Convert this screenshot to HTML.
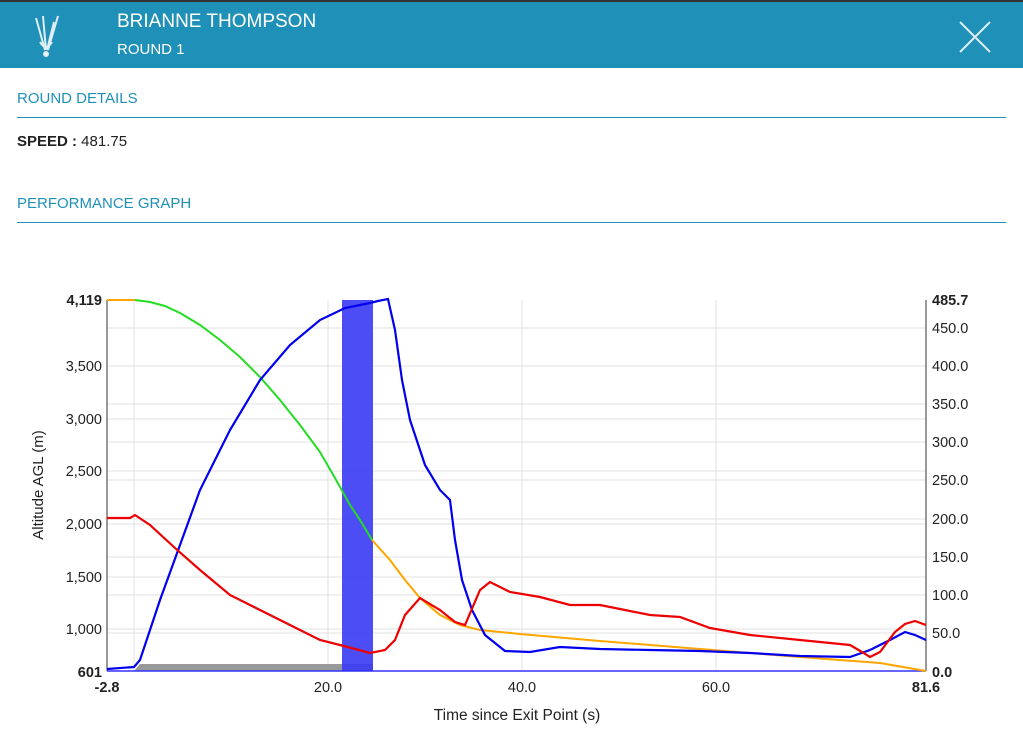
<!DOCTYPE html>
<html><head><meta charset="utf-8"><style>
body{margin:0;width:1023px;height:740px;background:#fff;font-family:"Liberation Sans","DejaVu Sans",sans-serif;overflow:hidden;position:relative}
.hdr{position:absolute;left:0;top:0;width:1023px;height:68px;background:#1f90b8;border-top:2px solid #333;box-sizing:border-box}
.t{position:absolute;color:#fff}
.sec{position:absolute;left:17px;color:#1f90b8;font-size:15px}
.line{position:absolute;left:17px;width:989px;height:0;border-top:1px solid #1f90b8}
</style></head><body>
<div class="hdr">
<svg style="position:absolute;left:30px;top:10px" width="34" height="48"><g stroke="#dfeef5" stroke-width="2" fill="none"><path d="M6 6 L15 38 M13 4 L16 38 M28 4 L18 38 M24 10 L17 38 M10 30 Q16 40 22 30"/><circle cx="16" cy="42" r="2" fill="#fff"/></g></svg>
<div class="t" style="left:117px;top:9px;font-size:19px">BRIANNE THOMPSON</div>
<div class="t" style="left:117px;top:39px;font-size:15px">ROUND 1</div>
<svg style="position:absolute;left:958px;top:18px" width="34" height="34"><path d="M2 2L32 32M32 2L2 32" stroke="#dcecf3" stroke-width="2"/></svg>
</div>
<div class="sec" style="top:90px">ROUND DETAILS</div>
<div class="line" style="top:117px"></div>
<div style="position:absolute;left:17px;top:133px;font-size:15px;color:#222"><b>SPEED :</b> 481.75</div>
<div class="sec" style="top:195px">PERFORMANCE GRAPH</div>
<div class="line" style="top:222px"></div>
<svg style="position:absolute;left:0;top:0" width="1023" height="740" font-family="Liberation Sans, sans-serif" font-size="14.5">
<g stroke="#e2e2e2" stroke-width="1">
<line x1="107" x2="926" y1="629" y2="629"/><line x1="107" x2="926" y1="577" y2="577"/><line x1="107" x2="926" y1="524" y2="524"/><line x1="107" x2="926" y1="471" y2="471"/><line x1="107" x2="926" y1="419" y2="419"/><line x1="107" x2="926" y1="366" y2="366"/>
<line x1="107" x2="926" y1="633" y2="633"/><line x1="107" x2="926" y1="595" y2="595"/><line x1="107" x2="926" y1="557" y2="557"/><line x1="107" x2="926" y1="519" y2="519"/><line x1="107" x2="926" y1="480" y2="480"/><line x1="107" x2="926" y1="442" y2="442"/><line x1="107" x2="926" y1="404" y2="404"/><line x1="107" x2="926" y1="328" y2="328"/>
<line x1="134" x2="134" y1="300" y2="671"/><line x1="328" x2="328" y1="300" y2="671"/><line x1="522" x2="522" y1="300" y2="671"/><line x1="716" x2="716" y1="300" y2="671"/>
</g>
<line x1="107" x2="107" y1="300" y2="671" stroke="#333"/><line x1="926" x2="926" y1="300" y2="671" stroke="#333"/>
<path d="M134 671 L140 664 L373 664 L373 671Z" fill="#999"/>
<rect x="342" y="300" width="31" height="371" fill="#3a3af5" opacity="0.9"/>
<line x1="107" x2="926" y1="671" y2="671" stroke="#33f" stroke-width="1.5"/>
<polyline fill="none" stroke="#ffa500" stroke-width="2" points="107,300 135,300"/>
<polyline fill="none" stroke="#22dd22" stroke-width="2" points="135,300 150,302 165,306 180,313 200,325 220,340 240,357 260,377 280,400 300,425 320,452 335,478 350,505 360,520 372,540"/>
<polyline fill="none" stroke="#ffa500" stroke-width="2" points="372,540 390,560 405,580 420,598 440,615 460,625 480,630 520,634 600,641 700,649 800,657 880,663 926,671"/>
<polyline fill="none" stroke="#0000ee" stroke-width="2.2" points="107,669 134,667 140,660 160,600 180,545 200,490 230,430 260,380 290,345 320,320 345,308 370,303 378,301 388,299 395,330 402,380 410,420 425,465 440,490 450,500 455,540 462,580 472,610 485,635 505,651 530,652 560,647 600,649 650,650 700,651 750,653 800,656 850,657 870,650 890,640 905,632 915,635 926,640"/>
<polyline fill="none" stroke="#ee0000" stroke-width="2.2" points="107,518 130,518 135,515 150,525 175,548 200,570 230,595 260,610 290,625 320,640 340,645 370,653 385,650 395,640 405,615 420,598 440,610 455,622 465,625 480,590 490,582 510,592 540,597 570,605 600,605 620,609 650,615 680,617 710,628 750,635 800,640 850,645 862,652 870,657 880,652 895,632 905,624 915,621 926,625"/>
<g text-anchor="end" fill="#222">
<text x="102" y="305" font-weight="bold">4,119</text><text x="102" y="371">3,500</text><text x="102" y="424">3,000</text><text x="102" y="476">2,500</text><text x="102" y="529">2,000</text><text x="102" y="582">1,500</text><text x="102" y="634">1,000</text><text x="102" y="677" font-weight="bold">601</text>
</g>
<g fill="#222">
<text x="932" y="305" font-weight="bold">485.7</text><text x="932" y="333">450.0</text><text x="932" y="371">400.0</text><text x="932" y="409">350.0</text><text x="932" y="447">300.0</text><text x="932" y="485">250.0</text><text x="932" y="524">200.0</text><text x="932" y="562">150.0</text><text x="932" y="600">100.0</text><text x="932" y="638">50.0</text><text x="932" y="677" font-weight="bold">0.0</text>
</g>
<g text-anchor="middle" fill="#222">
<text x="107" y="692" font-weight="bold">-2.8</text><text x="328" y="692">20.0</text><text x="522" y="692">40.0</text><text x="716" y="692">60.0</text><text x="926" y="692" font-weight="bold">81.6</text>
<text x="517" y="720" font-size="15.5">Time since Exit Point (s)</text>
<text transform="translate(43,485) rotate(-90)" font-size="15">Altitude AGL (m)</text>
</g>
</svg>
</body></html>
